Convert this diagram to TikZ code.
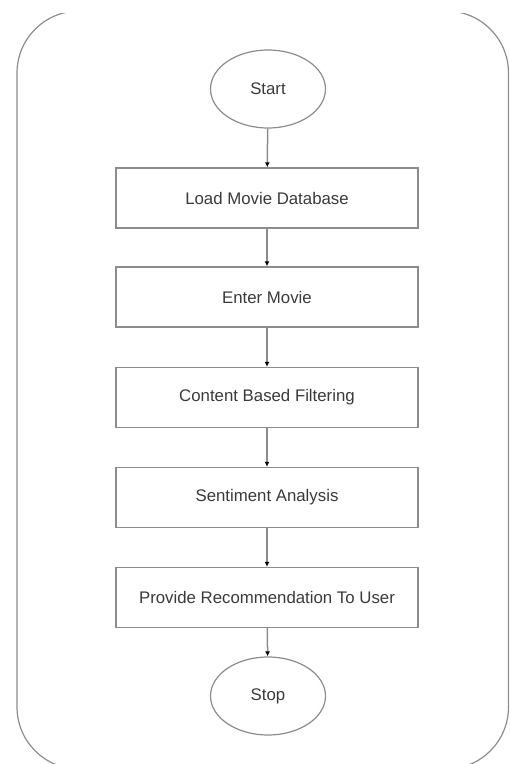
\documentclass[tikz,border=0pt]{standalone}
\usepackage{fontspec}
\setmainfont{Liberation Sans}
\usetikzlibrary{shapes.geometric,arrows.meta}
\definecolor{edge}{HTML}{8C8C8C}
\definecolor{ink}{HTML}{3A3A3A}
\tikzset{
  terminal/.style={ellipse,draw=edge,line width=1.2pt,minimum width=115pt,minimum height=78pt,inner sep=0pt,text=ink,font=\fontsize{16.8pt}{18pt}\selectfont},
  stepbox/.style={rectangle,draw=edge,line width=1.4pt,minimum width=302pt,minimum height=60pt,inner sep=0pt,text=ink,font=\fontsize{16.8pt}{18pt}\selectfont},
  flow/.style={draw=edge,line width=1.5pt,-{Latex[length=5pt,width=5pt,fill=black,color=black]}},
  frame/.style={draw=edge,line width=1.2pt,rounded corners=62pt}
}
\begin{document}
\begin{tikzpicture}[x=1pt,y=-1pt]
\useasboundingbox (0,0) rectangle (510,764);
% outer border, its top and bottom runs cut away
\begin{scope}
  \clip (0,13) rectangle (510,764);
  \draw[frame] (17,11) rectangle (508.5,769);
\end{scope}
% flow chart
\node[terminal] (start) at (268,89) {Start};
\node[stepbox] (load) at (267,198) {Load Movie Database};
\node[stepbox] (enter) at (267,297) {Enter Movie};
\node[stepbox] (cbf) at (267,397.5) {Content Based Filtering};
\node[stepbox] (sent) at (267,497.5) {Sentiment Analysis};
\node[stepbox] (rec) at (267,597.5) {Provide Recommendation To User};
\node[terminal] (stop) at (268,696) {Stop};
\draw[flow] (start) -- (load);
\draw[flow] (load) -- (enter);
\draw[flow] (enter) -- (cbf);
\draw[flow] (cbf) -- (sent);
\draw[flow] (sent) -- (rec);
\draw[flow] (rec) -- (stop);
\end{tikzpicture}
\end{document}
